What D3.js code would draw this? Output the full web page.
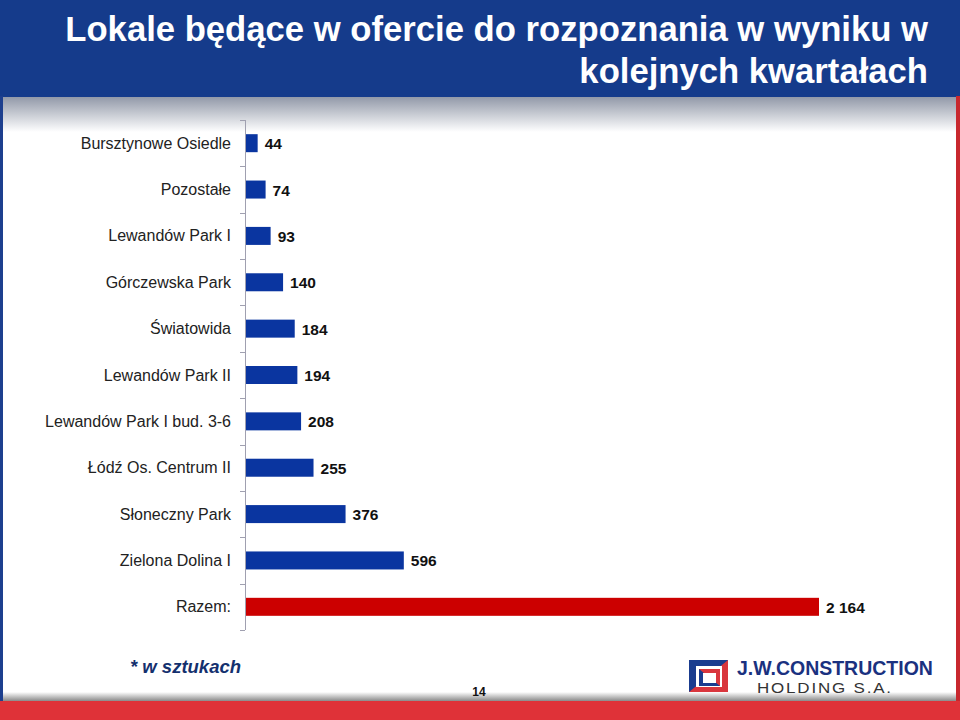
<!DOCTYPE html>
<html><head><meta charset="utf-8">
<script src="https://cdn.jsdelivr.net/npm/d3@7"></script>
<style>html,body{margin:0;padding:0;background:#fff}svg{display:block}</style>
</head><body>
<svg id="c" width="960" height="720"></svg>
<script>
const categories = ["Bursztynowe Osiedle","Pozostałe","Lewandów Park I","Górczewska Park","Światowida","Lewandów Park II","Lewandów Park I bud. 3-6","Łódź Os. Centrum II","Słoneczny Park","Zielona Dolina I","Razem:"];
const values = [44,74,93,140,184,194,208,255,376,596,2164];
const valueLabels = ["44","74","93","140","184","194","208","255","376","596","2 164"];
const titleLines = ["Lokale będące w ofercie do rozpoznania w wyniku w","kolejnych kwartałach"];

const FONT = "'Liberation Sans', Arial, sans-serif";
const svg = d3.select("#c");
const defs = svg.append("defs");
const g1 = defs.append("linearGradient").attr("id","shade").attr("x1",0).attr("y1",0).attr("x2",0).attr("y2",1);
g1.append("stop").attr("offset","0%").attr("stop-color","#8f96a6");
g1.append("stop").attr("offset","100%").attr("stop-color","#ffffff");
const g2 = defs.append("linearGradient").attr("id","shade2").attr("x1",0).attr("y1",0).attr("x2",0).attr("y2",1);
g2.append("stop").attr("offset","0%").attr("stop-color","#ffffff");
g2.append("stop").attr("offset","100%").attr("stop-color","#8a8a8a");

// background frame
svg.append("rect").attr("x",0).attr("y",96).attr("width",960).attr("height",36).attr("fill","url(#shade)");
svg.append("rect").attr("x",0).attr("y",692).attr("width",960).attr("height",9).attr("fill","url(#shade2)");
svg.append("rect").attr("x",0).attr("y",0).attr("width",960).attr("height",97).attr("fill","#153b8b");
svg.append("rect").attr("x",0).attr("y",96).attr("width",3).attr("height",606).attr("fill","#1d3f8e");
svg.append("rect").attr("x",956).attr("y",96).attr("width",4).attr("height",606).attr("fill","#c8282e");
svg.append("rect").attr("x",0).attr("y",701).attr("width",960).attr("height",19).attr("fill","#df3238");

// title
const titleG = svg.append("g");
titleLines.forEach((t,i)=>{
  titleG.append("text").attr("x",928).attr("y",41+i*42).attr("text-anchor","end")
    .attr("font-family",FONT).attr("font-weight","bold")
    .attr("font-size",36).attr("fill","#ffffff").text(t);
});
(function(){
  const nodes = titleG.selectAll("text").nodes();
  const s = 863 / nodes[0].getComputedTextLength();
  nodes.forEach(n=>n.setAttribute("transform",`translate(928,0) scale(${s},1) translate(-928,0)`));
})();

// chart
const x = d3.scaleLinear().domain([0,2164]).range([245,818]);
const yb = d3.scaleBand().domain(categories).range([120,630]);

svg.append("line").attr("x1",245.5).attr("x2",245.5).attr("y1",120).attr("y2",630).attr("stroke","#a0a0b0").attr("stroke-width",1);
const edges = d3.range(categories.length+1).map(i=>120+i*yb.step());
svg.selectAll(".tk").data(edges).enter().append("line")
  .attr("x1",240).attr("x2",245).attr("y1",d=>Math.round(d)+0.5).attr("y2",d=>Math.round(d)+0.5)
  .attr("stroke","#a0a0b0");

svg.selectAll(".bar").data(values).enter().append("rect")
  .attr("x",x(0)+1).attr("y",(d,i)=>yb(categories[i])+yb.bandwidth()/2-9)
  .attr("width",d=>x(d)-x(0)).attr("height",18)
  .attr("fill",(d,i)=>i===values.length-1?"#cc0000":"#0a35a0");

svg.selectAll(".cl").data(categories).enter().append("text")
  .attr("x",231).attr("y",d=>yb(d)+yb.bandwidth()/2+5.5).attr("text-anchor","end")
  .attr("font-family",FONT).attr("font-size",16).attr("fill","#222")
  .text(d=>d);

svg.selectAll(".vl").data(values).enter().append("text")
  .attr("x",d=>x(d)+8).attr("y",(d,i)=>yb(categories[i])+yb.bandwidth()/2+6)
  .attr("font-family",FONT).attr("font-weight","bold").attr("font-size",15.5).attr("fill","#111")
  .text((d,i)=>valueLabels[i]);

// footer
svg.append("text").attr("x",130).attr("y",673).attr("font-family",FONT)
  .attr("font-weight","bold").attr("font-style","italic").attr("font-size",18.5).attr("fill","#14306e").text("* w sztukach");
svg.append("text").attr("x",479).attr("y",696).attr("text-anchor","middle").attr("font-family",FONT)
  .attr("font-weight","bold").attr("font-size",12).attr("fill","#111").text("14");

// logo
const lg = svg.append("g");
lg.append("path").attr("d","M689 660 H728 V692 H689 Z").attr("fill","#d9363d");
lg.append("path").attr("d","M689 660 H728 L689 692 Z").attr("fill","#1a3c8f");
lg.append("rect").attr("x",696).attr("y",666).attr("width",26).attr("height",21).attr("fill","#ffffff");
lg.append("path").attr("d","M699 669 H720 V686 H699 Z").attr("fill","#1a3c8f");
lg.append("path").attr("d","M699 669 H720 V686 Z").attr("fill","#d9363d");
lg.append("rect").attr("x",703).attr("y",673).attr("width",13).attr("height",10).attr("fill","#ffffff");
const t1 = lg.append("text").attr("x",737).attr("y",675).attr("font-family",FONT)
  .attr("font-weight","bold").attr("font-size",20).attr("fill","#1a3180").text("J.W.CONSTRUCTION");
const t2 = lg.append("text").attr("x",757).attr("y",693).attr("font-family",FONT)
  .attr("font-size",14).attr("fill","#333").attr("letter-spacing",1.5).text("HOLDING S.A.");
[[t1,737,196],[t2,757,136]].forEach(([t,x0,w])=>{
  const s = w / t.node().getComputedTextLength();
  t.attr("transform",`translate(${x0},0) scale(${s},1) translate(${-x0},0)`);
});
</script>
</body></html>
